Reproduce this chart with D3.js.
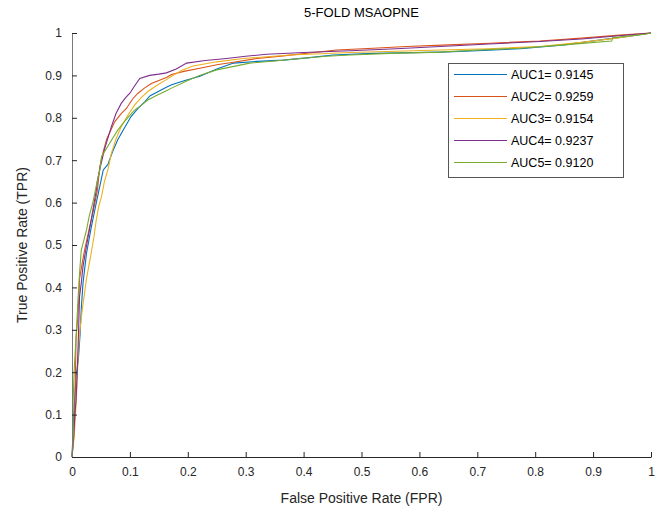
<!DOCTYPE html>
<html>
<head>
<meta charset="utf-8">
<script src="https://cdn.jsdelivr.net/npm/d3@7"></script>
<style>
  html, body { margin: 0; padding: 0; background: #fff; }
  svg { display: block; font-family: "Liberation Sans", Arial, Helvetica, sans-serif; }
</style>
</head>
<body>
<svg id="chart" width="664" height="512"></svg>
<script>
// ---------- data ----------
const seriesNames = ["AUC1= 0.9145", "AUC2= 0.9259", "AUC3= 0.9154", "AUC4= 0.9237", "AUC5= 0.9120"];
const seriesColors = ["#0072BD", "#D95319", "#EDB120", "#7E2F8E", "#77AC30"];
const xTicks = [0, 0.1, 0.2, 0.3, 0.4, 0.5, 0.6, 0.7, 0.8, 0.9, 1];
const yTicks = [0, 0.1, 0.2, 0.3, 0.4, 0.5, 0.6, 0.7, 0.8, 0.9, 1];

const roc1 = [[0,0],[0.003,0.1],[0.007,0.19],[0.011,0.23],[0.014,0.29],[0.016,0.35],[0.019,0.41],[0.025,0.48],[0.033,0.54],[0.042,0.6],[0.054,0.677],[0.062,0.69],[0.07,0.72],[0.079,0.748],[0.09,0.775],[0.102,0.803],[0.114,0.822],[0.126,0.838],[0.135,0.852],[0.149,0.862],[0.163,0.872],[0.172,0.878],[0.195,0.888],[0.221,0.898],[0.25,0.915],[0.279,0.929],[0.32,0.933],[0.365,0.936],[0.41,0.942],[0.451,0.948],[0.52,0.952],[0.636,0.955],[0.7,0.958],[0.774,0.963],[0.85,0.972],[0.92,0.985],[0.96,0.992],[1,1]];
const roc2 = [[0,0],[0.004,0.06],[0.006,0.2],[0.007,0.28],[0.01,0.33],[0.012,0.38],[0.013,0.42],[0.018,0.46],[0.022,0.49],[0.03,0.54],[0.036,0.575],[0.044,0.63],[0.048,0.685],[0.054,0.72],[0.06,0.75],[0.074,0.791],[0.085,0.81],[0.094,0.822],[0.105,0.845],[0.114,0.858],[0.125,0.87],[0.137,0.881],[0.15,0.888],[0.163,0.895],[0.172,0.902],[0.195,0.91],[0.221,0.917],[0.25,0.925],[0.279,0.931],[0.32,0.94],[0.365,0.946],[0.41,0.953],[0.457,0.96],[0.52,0.964],[0.578,0.968],[0.65,0.972],[0.722,0.976],[0.808,0.981],[0.88,0.988],[0.946,0.995],[1,1]];
const roc3 = [[0,0],[0.004,0.05],[0.008,0.15],[0.011,0.25],[0.013,0.29],[0.018,0.35],[0.022,0.39],[0.025,0.42],[0.029,0.45],[0.033,0.48],[0.038,0.52],[0.042,0.56],[0.046,0.59],[0.051,0.614],[0.056,0.65],[0.062,0.677],[0.068,0.716],[0.076,0.75],[0.085,0.779],[0.096,0.805],[0.108,0.83],[0.12,0.848],[0.131,0.862],[0.145,0.875],[0.163,0.89],[0.172,0.898],[0.19,0.912],[0.209,0.922],[0.25,0.932],[0.296,0.94],[0.337,0.944],[0.377,0.948],[0.43,0.951],[0.48,0.954],[0.56,0.957],[0.636,0.96],[0.72,0.963],[0.808,0.968],[0.88,0.978],[0.94,0.988],[1,1]];
const roc4 = [[0,0],[0.003,0.05],[0.005,0.1],[0.007,0.134],[0.009,0.2],[0.011,0.28],[0.013,0.378],[0.016,0.41],[0.019,0.449],[0.024,0.49],[0.028,0.52],[0.032,0.55],[0.036,0.582],[0.042,0.63],[0.044,0.653],[0.05,0.69],[0.056,0.725],[0.062,0.752],[0.068,0.779],[0.076,0.81],[0.085,0.834],[0.093,0.848],[0.1,0.858],[0.108,0.875],[0.117,0.893],[0.134,0.9],[0.15,0.903],[0.163,0.906],[0.18,0.915],[0.198,0.929],[0.23,0.935],[0.267,0.94],[0.3,0.945],[0.336,0.95],[0.4,0.954],[0.48,0.958],[0.56,0.963],[0.636,0.968],[0.72,0.974],[0.808,0.98],[0.88,0.986],[0.95,0.994],[1,1]];
const roc5 = [[0,0],[0.002,0.05],[0.002,0.134],[0.004,0.213],[0.007,0.28],[0.01,0.362],[0.013,0.433],[0.016,0.488],[0.025,0.535],[0.03,0.57],[0.036,0.6],[0.042,0.64],[0.048,0.677],[0.051,0.708],[0.065,0.74],[0.079,0.771],[0.093,0.795],[0.108,0.818],[0.12,0.83],[0.131,0.842],[0.145,0.852],[0.163,0.864],[0.172,0.87],[0.2,0.888],[0.22,0.9],[0.25,0.913],[0.307,0.929],[0.35,0.934],[0.394,0.94],[0.44,0.945],[0.48,0.948],[0.55,0.952],[0.636,0.955],[0.7,0.96],[0.774,0.964],[0.85,0.972],[0.932,0.981],[0.934,0.989],[0.99,0.997],[1,1]];
const rocSeries = [roc1, roc2, roc3, roc4, roc5];

// ---------- layout ----------
const svg = d3.select("#chart");
const plotLeft = 72, plotRight = 651, plotTop = 33, plotBottom = 457;
const x = d3.scaleLinear().domain([0, 1]).range([plotLeft, plotRight]);
const y = d3.scaleLinear().domain([0, 1]).range([plotBottom, plotTop]);
const axisColor = "#262626";

// title
svg.append("text")
  .attr("x", (plotLeft + plotRight) / 2).attr("y", 17)
  .attr("text-anchor", "middle")
  .attr("font-size", 13).attr("fill", "#000")
  .text("5-FOLD MSAOPNE");

// curves
const line = d3.line().x(d => x(d[0])).y(d => y(d[1]));
rocSeries.forEach((s, i) => {
  svg.append("path")
    .attr("d", line(s))
    .attr("fill", "none")
    .attr("stroke", seriesColors[i])
    .attr("stroke-width", 1.1)
    .attr("stroke-linejoin", "miter");
});

// axes
const xAxis = d3.axisBottom(x).tickValues(xTicks).tickFormat(d3.format("")).tickSizeInner(-5).tickSizeOuter(0).tickPadding(10);
const yAxis = d3.axisLeft(y).tickValues(yTicks).tickFormat(d3.format("")).tickSizeInner(-5).tickSizeOuter(0).tickPadding(10);

const gx = svg.append("g").attr("transform", `translate(0,${plotBottom})`).call(xAxis);
const gy = svg.append("g").attr("transform", `translate(${plotLeft},0)`).call(yAxis);
[gx, gy].forEach(g => {
  g.selectAll("path.domain").attr("stroke", axisColor);
  g.selectAll(".tick line").attr("stroke", axisColor);
  g.selectAll(".tick text").attr("fill", axisColor).attr("font-size", 12)
    .attr("font-family", "'Liberation Sans', Arial, sans-serif");
});
gy.select("path.domain").attr("stroke", "#7a7a7a");

// axis labels
svg.append("text")
  .attr("x", (plotLeft + plotRight) / 2).attr("y", 503)
  .attr("text-anchor", "middle")
  .attr("font-size", 14).attr("fill", axisColor)
  .text("False Positive Rate (FPR)");
svg.append("text")
  .attr("transform", `translate(27,${(plotTop + plotBottom) / 2}) rotate(-90)`)
  .attr("text-anchor", "middle")
  .attr("font-size", 14).attr("fill", axisColor)
  .text("True Positive Rate (TPR)");

// legend
const lg = svg.append("g");
lg.append("rect")
  .attr("x", 448.5).attr("y", 63.5).attr("width", 175).attr("height", 114)
  .attr("fill", "#fff").attr("stroke", "#555").attr("stroke-width", 1);
seriesNames.forEach((name, i) => {
  const yy = 74.5 + i * 22;
  lg.append("line")
    .attr("x1", 454).attr("x2", 507).attr("y1", yy).attr("y2", yy)
    .attr("stroke", seriesColors[i]).attr("stroke-width", 1.1);
  lg.append("text")
    .attr("x", 511).attr("y", yy + 4.5)
    .attr("font-size", 12.5).attr("fill", "#000")
    .text(name);
});
</script>
</body>
</html>
